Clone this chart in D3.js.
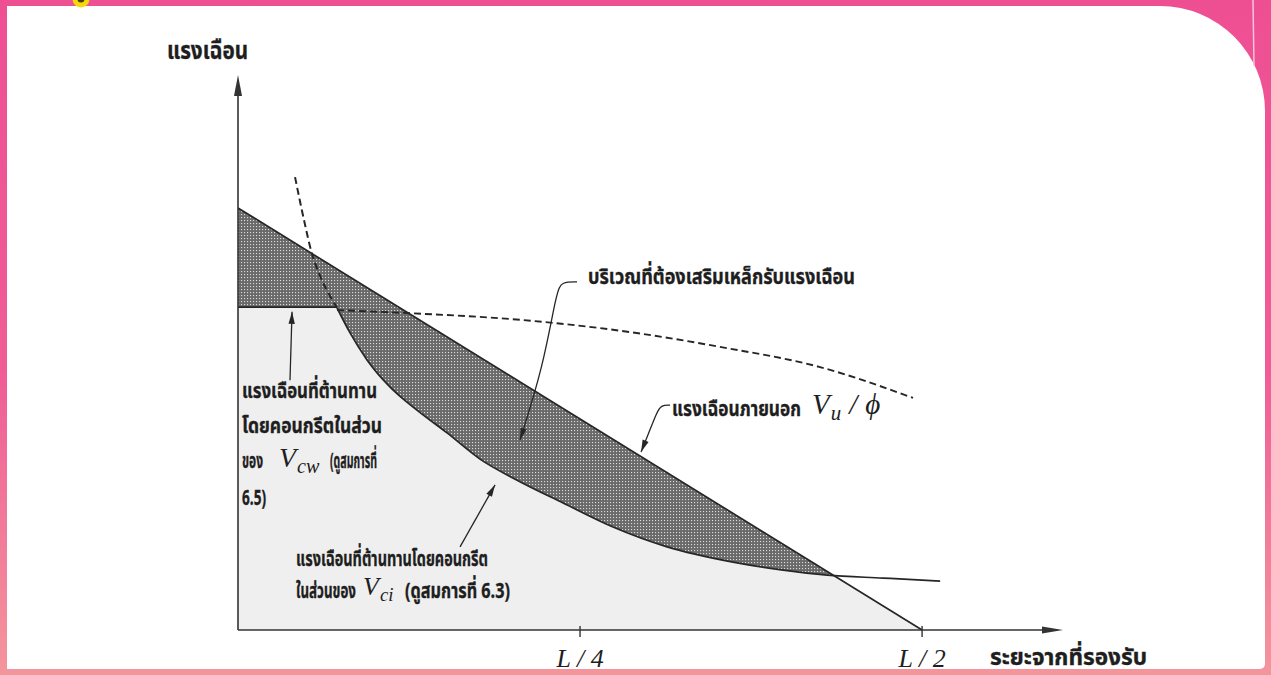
<!DOCTYPE html>
<html>
<head>
<meta charset="utf-8">
<script src="https://cdn.jsdelivr.net/npm/d3@7"></script>
<style>
  html, body { margin: 0; padding: 0; background: #fff; }
  svg { display: block; }
  .th { font-family: "Noto Sans Thai", "Noto Sans", "DejaVu Sans", sans-serif; font-weight: bold; fill: #1e1e1e; stroke: #1e1e1e; stroke-width: 0.35px; }
  .math { font-family: "Liberation Serif", "DejaVu Serif", serif; font-style: italic; fill: #1e1e1e; }
</style>
</head>
<body>
<div id="chart"></div>
<script>
// x is the distance from the support as a fraction of the span L, y is shear (Vu/phi at support = 100)
var xTickValues = [0.25, 0.5]
var xTickLabels = ["L / 4", "L / 2"]

var vuX = [0, 0.5]
var vuY = [100, 0]

var vcwSolidX = [0, 0.0724]
var vcwSolidY = [76.5, 76.5]

var vcwDashX = [0.0724, 0.1235, 0.206, 0.2865, 0.352, 0.4254, 0.4934]
var vcwDashY = [75.8, 75.1, 73.5, 70.6, 67.1, 62.3, 55.0]

var vciDashX = [0.0417, 0.0482, 0.0548, 0.0629, 0.0724]
var vciDashY = [107.3, 97.2, 88.4, 81.8, 76.3]

var vciX = [0.0724, 0.0819, 0.0943, 0.111, 0.1308, 0.1528, 0.1769, 0.204, 0.2376, 0.2741, 0.3136, 0.3618, 0.3984, 0.4306, 0.4715, 0.5132]
var vciY = [76.3, 70.4, 64.0, 57.6, 52.1, 46.7, 40.5, 35.5, 30.1, 24.4, 19.7, 16.1, 14.2, 13.0, 12.3, 11.6]

var W = 1271, H = 675
var svg = d3.select("#chart").append("svg")
  .attr("width", W)
  .attr("height", H)

// pink page frame
var defs = svg.append("defs")
var grad = defs.append("linearGradient").attr("id", "frame").attr("x1", 0).attr("y1", 0).attr("x2", 0).attr("y2", 1)
grad.append("stop").attr("offset", "0%").attr("stop-color", "#ee4f93")
grad.append("stop").attr("offset", "55%").attr("stop-color", "#ef5d96")
grad.append("stop").attr("offset", "100%").attr("stop-color", "#f4959c")

var dots = defs.append("pattern").attr("id", "dots")
  .attr("width", 3).attr("height", 3).attr("patternUnits", "userSpaceOnUse")
dots.append("rect").attr("width", 3).attr("height", 3).attr("fill", "#6a6a6a")
dots.append("rect").attr("x", 1).attr("y", 1).attr("width", 1.1).attr("height", 1.1).attr("fill", "#dcdcdc")

svg.append("rect").attr("width", W).attr("height", H).attr("fill", "url(#frame)")
svg.append("path")
  .attr("d", "M7,6 L1160,6 A105,105 0 0 1 1265,111 L1265,664 A5,5 0 0 1 1260,669 L7,669 Z")
  .attr("fill", "#ffffff")
svg.append("line").attr("x1", 1253).attr("y1", 0).attr("x2", 1254).attr("y2", 66)
  .attr("stroke", "#f7c4dc").attr("stroke-width", 1.5)
svg.append("circle").attr("cx", 81).attr("cy", -1).attr("r", 8.5).attr("fill", "#f5d90a")
svg.append("circle").attr("cx", 81).attr("cy", -1).attr("r", 3.5).attr("fill", "#4a3b10")

// scales
var x = d3.scaleLinear().domain([0, 0.603]).range([238, 1063])
var y = d3.scaleLinear().domain([0, 129]).range([630, 85.6])

function pts(xs, ys) { return xs.map(function(d, i) { return [d, ys[i]] }) }
var line = d3.line().x(function(d) { return x(d[0]) }).y(function(d) { return y(d[1]) })
var smooth = d3.line().x(function(d) { return x(d[0]) }).y(function(d) { return y(d[1]) }).curve(d3.curveMonotoneX)
var smoothY = d3.line().x(function(d) { return x(d[0]) }).y(function(d) { return y(d[1]) }).curve(d3.curveCatmullRom)
function cont(p) { return "L" + p.slice(1) }   // continue a path instead of moving

var vu = pts(vuX, vuY)
var vci = pts(vciX, vciY)
var vcw = pts(vcwSolidX, vcwSolidY)
function vuAt(t) { return vuY[0] + (vuY[1] - vuY[0]) * (t - vuX[0]) / (vuX[1] - vuX[0]) }

// where Vci meets Vu/phi
var xi = vciX[vciX.length - 1], yi = vuAt(xi)
for (var i = 1; i < vci.length; i++) {
  var a = vci[i - 1][1] - vuAt(vci[i - 1][0]), b = vci[i][1] - vuAt(vci[i][0])
  if (a <= 0 && b > 0) {
    var t = a / (a - b)
    xi = vci[i - 1][0] + t * (vci[i][0] - vci[i - 1][0])
    yi = vuAt(xi)
    break
  }
}
var vciLow = vci.filter(function(d) { return d[0] < xi })
vciLow.push([xi, yi])
var lowerPath = line(vcw) + cont(smooth(vciLow))

// light area under the concrete capacity
svg.append("path")
  .attr("d", "M" + x(0) + "," + y(0) + cont(lowerPath) + "L" + x(vuX[1]) + "," + y(vuY[1]) + "Z")
  .attr("fill", "#efefef")

// region needing stirrups
svg.append("path").attr("d", lowerPath + "L" + x(vuX[0]) + "," + y(vuY[0]) + "Z")
  .attr("fill", "url(#dots)")

// curves
var ink = "#262626"
svg.append("path").attr("d", line(vu)).attr("fill", "none").attr("stroke", ink).attr("stroke-width", 1.7)
svg.append("path").attr("d", line(vcw)).attr("fill", "none").attr("stroke", ink).attr("stroke-width", 1.9)
svg.append("path").attr("d", smooth(vci)).attr("fill", "none").attr("stroke", ink).attr("stroke-width", 1.7)
svg.append("path").attr("d", smooth(pts(vcwDashX, vcwDashY))).attr("fill", "none")
  .attr("stroke", ink).attr("stroke-width", 1.9).attr("stroke-dasharray", "7,4")
svg.append("path").attr("d", smoothY(pts(vciDashX, vciDashY))).attr("fill", "none")
  .attr("stroke", ink).attr("stroke-width", 2).attr("stroke-dasharray", "7,4")

// axes
svg.append("line").attr("x1", x(0)).attr("y1", y(0)).attr("x2", x(0)).attr("y2", 90)
  .attr("stroke", "#333").attr("stroke-width", 1.6)
svg.append("path").attr("d", "M" + x(0) + ",75 L" + (x(0) - 4) + ",96 L" + (x(0) + 4) + ",96 Z").attr("fill", "#333")
svg.append("line").attr("x1", x(0)).attr("y1", y(0)).attr("x2", 1046).attr("y2", y(0))
  .attr("stroke", "#333").attr("stroke-width", 1.6)
svg.append("path").attr("d", "M1063," + y(0) + " L1042," + (y(0) - 3.5) + " L1042," + (y(0) + 3.5) + " Z").attr("fill", "#333")

svg.selectAll(".tick").data(xTickValues).enter().append("line")
  .attr("x1", function(d) { return x(d) }).attr("x2", function(d) { return x(d) })
  .attr("y1", y(0) - 4).attr("y2", y(0) + 7)
  .attr("stroke", "#333").attr("stroke-width", 1.4)
svg.selectAll(".ticklab").data(xTickValues).enter().append("text")
  .attr("class", "math")
  .attr("x", function(d) { return x(d) }).attr("y", 667)
  .attr("text-anchor", "middle").style("font-size", "26px")
  .text(function(d, i) { return xTickLabels[i] })

// labels
function thai(txt, px, py, size, len) {
  var t = svg.append("text").attr("class", "th").attr("x", px).attr("y", py)
    .style("font-size", size + "px").text(txt)
  if (len) t.attr("textLength", len).attr("lengthAdjust", "spacingAndGlyphs")
  return t
}
function mathText(txt, px, py, size) {
  var t = svg.append("text").attr("class", "math").attr("x", px).attr("y", py)
    .style("font-size", size + "px").text(txt)
  return px + t.node().getComputedTextLength()
}
// V with a subscript, as two separate texts; returns the right end
function mathV(sub, px, py, size) {
  var end = mathText("V", px, py, size)
  return mathText(sub, end + 1, py + 6, size * 0.72)
}

thai("แรงเฉือน", 167, 59, 24, 81)
thai("ระยะจากที่รองรับ", 990, 665, 23, 157)
thai("บริเวณที่ต้องเสริมเหล็กรับแรงเฉือน", 588, 284, 22, 267)
thai("แรงเฉือนภายนอก", 672, 416, 22, 129)
var endU = mathV("u", 812, 414, 29)
var endSlash = mathText("/", endU + 8, 414, 29)
mathText("ϕ", endSlash + 8, 414, 29)

thai("แรงเฉือนที่ต้านทาน", 242, 398, 22, 135)
thai("โดยคอนกรีตในส่วน", 242, 433, 22, 140)
thai("ของ", 242, 468, 22, 21)
mathV("cw", 279, 467, 28)
thai("(ดูสมการที่", 330, 468, 22, 47)
thai("6.5)", 242, 505, 21, 24)

thai("แรงเฉือนที่ต้านทานโดยคอนกรีต", 296, 566, 22, 192)
thai("ในส่วนของ", 296, 598, 22, 60)
mathV("ci", 363, 595, 26)
thai("(ดูสมการที่ 6.3)", 405, 598, 22, 105)

// leader arrows (data units)
function arrowLeader(path) {
  var p = path.map(function(d) { return [x(d[0]), y(d[1])] })
  svg.append("path").attr("d", d3.line().curve(d3.curveBasis)(p))
    .attr("fill", "none").attr("stroke", ink).attr("stroke-width", 1.3)
  var e = p[p.length - 1], s = p[p.length - 2]
  var ang = Math.atan2(e[1] - s[1], e[0] - s[0])
  var l = 12, w = 3.2
  var bx = e[0] - l * Math.cos(ang), by = e[1] - l * Math.sin(ang)
  svg.append("path")
    .attr("d", "M" + e[0] + "," + e[1] +
      "L" + (bx + w * Math.sin(ang)) + "," + (by - w * Math.cos(ang)) +
      "L" + (bx - w * Math.sin(ang)) + "," + (by + w * Math.cos(ang)) + "Z")
    .attr("fill", ink)
}
arrowLeader([[0.2478, 82.5], [0.2368, 82.5], [0.2330, 80.5], [0.2230, 62.3], [0.2061, 45.0]])
arrowLeader([[0.3158, 53.3], [0.3092, 53.3], [0.3060, 51.5], [0.3000, 46.5], [0.2946, 42.2]])
arrowLeader([[0.0380, 59.2], [0.0395, 75.4]])
arrowLeader([[0.1623, 19.7], [0.1879, 34.4]])
</script>
</body>
</html>
